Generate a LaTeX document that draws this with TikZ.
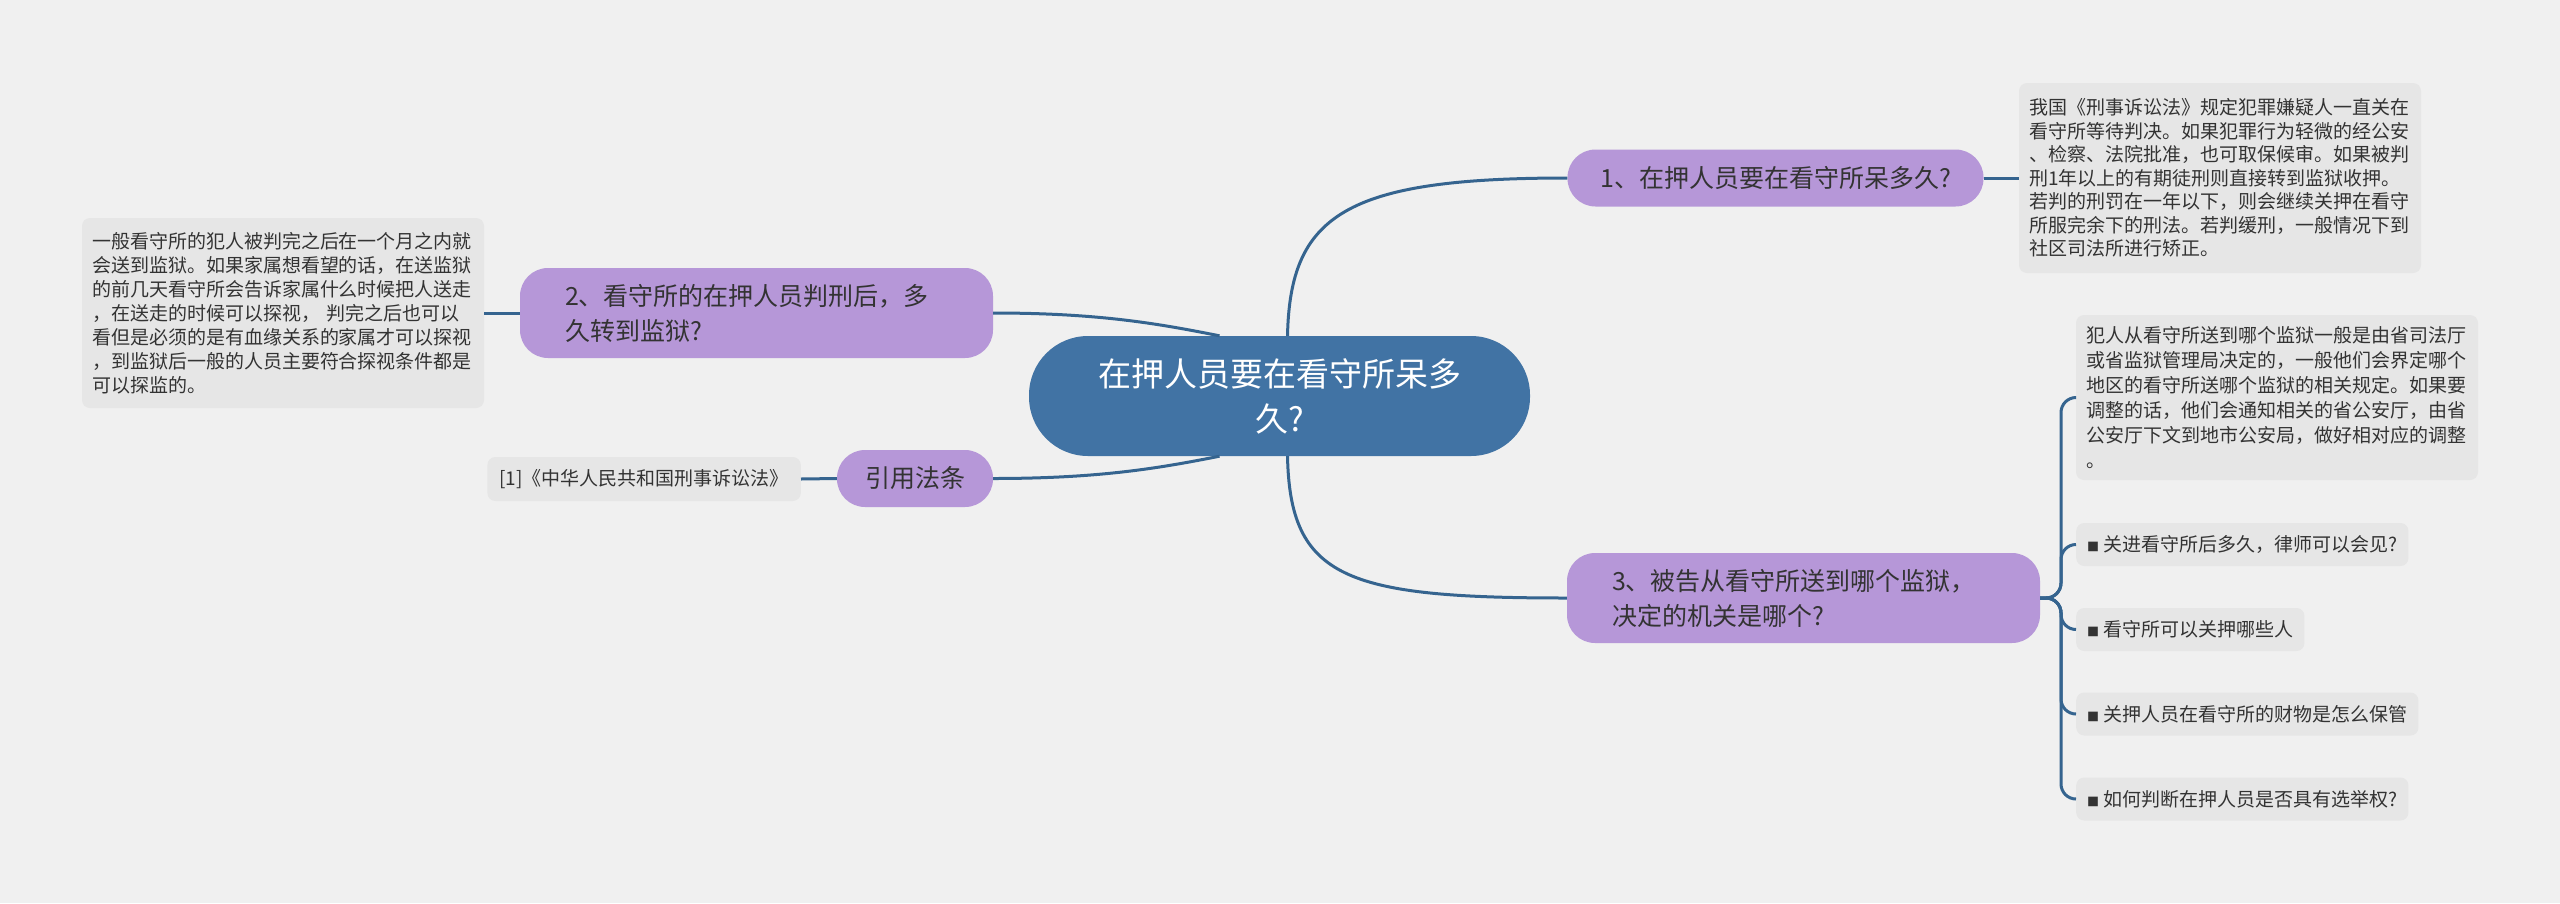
\documentclass[tikz,border=0pt]{standalone}
\usepackage{fontspec}
\setmainfont{Noto Sans CJK SC}
\definecolor{bg}{HTML}{F0F0F0}
\definecolor{cblue}{HTML}{4173A4}
\definecolor{lineblue}{HTML}{35648F}
\definecolor{purp}{HTML}{B697D8}
\definecolor{boxgray}{HTML}{E6E6E6}
\definecolor{txt}{HTML}{333333}
\begin{document}
\begin{tikzpicture}[x=1pt,y=-1pt,
  central/.style={fill=cblue, rounded corners=59pt, minimum width=501pt, minimum height=120pt, inner sep=0pt, text=white, align=center, font=\fontsize{33}{45}\selectfont},
  topic/.style={fill=purp, rounded corners=28pt, inner sep=0pt, text=txt, font=\fontsize{25}{35}\selectfont},
  note/.style={fill=boxgray, rounded corners=8pt, inner sep=0pt, text=txt, align=left, font=\fontsize{19}{23.5}\selectfont},
  item/.style={fill=boxgray, rounded corners=8pt, inner xsep=11pt, inner ysep=0pt, minimum height=43pt, text=txt, font=\fontsize{19}{23.5}\selectfont, anchor=west},
  conn/.style={draw=lineblue, line width=3pt}]
\useasboundingbox (0,0) rectangle (2560,903);
\fill[bg] (0,0) rectangle (2560,903);

% central
\node[central] (c) at (1279.5,396) {在押人员要在看守所呆多\\久?};

% topic 1
\node[topic, minimum width=416pt, minimum height=57pt] (n1) at (1775.5,178) {1、在押人员要在看守所呆多久?};
\node[note, minimum width=402pt, minimum height=190pt, text width=382pt] (t1) at (2220,178) {我国《刑事诉讼法》规定犯罪嫌疑人一直关在\\看守所等待判决。如果犯罪行为轻微的经公安\\、检察、法院批准，也可取保候审。如果被判\\刑1年以上的有期徒刑则直接转到监狱收押。\\若判的刑罚在一年以下，则会继续关押在看守\\所服完余下的刑法。若判缓刑，一般情况下到\\社区司法所进行矫正。};

% topic 2
\node[topic, minimum width=473pt, minimum height=90pt, text width=383pt, align=left] (n2) at (756.5,313) {2、看守所的在押人员判刑后，多\\久转到监狱?};
\node[note, minimum width=402pt, minimum height=190pt, text width=382pt, font=\fontsize{19}{24}\selectfont] (t2) at (283,313) {一般看守所的犯人被判完之后在一个月之内就\\会送到监狱。如果家属想看望的话，在送监狱\\的前几天看守所会告诉家属什么时候把人送走\\，在送走的时候可以探视， 判完之后也可以\\看但是必须的是有血缘关系的家属才可以探视\\，到监狱后一般的人员主要符合探视条件都是\\可以探监的。};

% topic 4 (references)
\node[topic, minimum width=156pt, minimum height=57pt] (n4) at (915,478.5) {引用法条};
\node[note, anchor=east, inner xsep=12pt, minimum height=44pt] (t4) at (801,479) {[1]《中华人民共和国刑事诉讼法》};

% topic 3
\node[topic, minimum width=473pt, minimum height=90pt, text width=383pt, align=left] (n3) at (1803.5,598) {3、被告从看守所送到哪个监狱，\\决定的机关是哪个?};
\node[note, minimum width=402pt, minimum height=165pt, text width=382pt, font=\fontsize{19}{25}\selectfont] (t3) at (2277,397.5) {犯人从看守所送到哪个监狱一般是由省司法厅\\或省监狱管理局决定的，一般他们会界定哪个\\地区的看守所送哪个监狱的相关规定。如果要\\调整的话，他们会通知相关的省公安厅，由省\\公安厅下文到地市公安局，做好相对应的调整\\。};
\node[item] (i1) at (2076,544.5) {{\fontsize{12}{12}\selectfont ■} 关进看守所后多久，律师可以会见?};
\node[item] (i2) at (2076,629.5) {{\fontsize{12}{12}\selectfont ■} 看守所可以关押哪些人};
\node[item] (i3) at (2076,714) {{\fontsize{12}{12}\selectfont ■} 关押人员在看守所的财物是怎么保管};
\node[item] (i4) at (2076,799) {{\fontsize{12}{12}\selectfont ■} 如何判断在押人员是否具有选举权?};
\coordinate (sp) at (2061,598);

% connectors
\draw[conn] ([xshift=8pt]c.north) .. controls (1290,215) and (1345,178) .. (n1.west);
\draw[conn] ([xshift=8pt]c.south) .. controls (1290,578) and (1345,598) .. (n3.west);
\draw[conn] (n2.east) .. controls (1100,313) and (1160,324) .. ([xshift=-60pt]c.north);
\draw[conn] (n4.east) .. controls (1100,478.5) and (1160,468) .. ([xshift=-60pt]c.south);
\draw[conn] (n1.east) -- (t1.west);
\draw[conn] (n2.west) -- (t2.east);
\draw[conn] (n4.west) -- (t4.east);
\foreach \ch in {t3,i1,i2,i3,i4}{
  \draw[conn, rounded corners=15pt] (n3.east) -| (sp |- \ch.west) -- (\ch.west);
}
\end{tikzpicture}
\end{document}
